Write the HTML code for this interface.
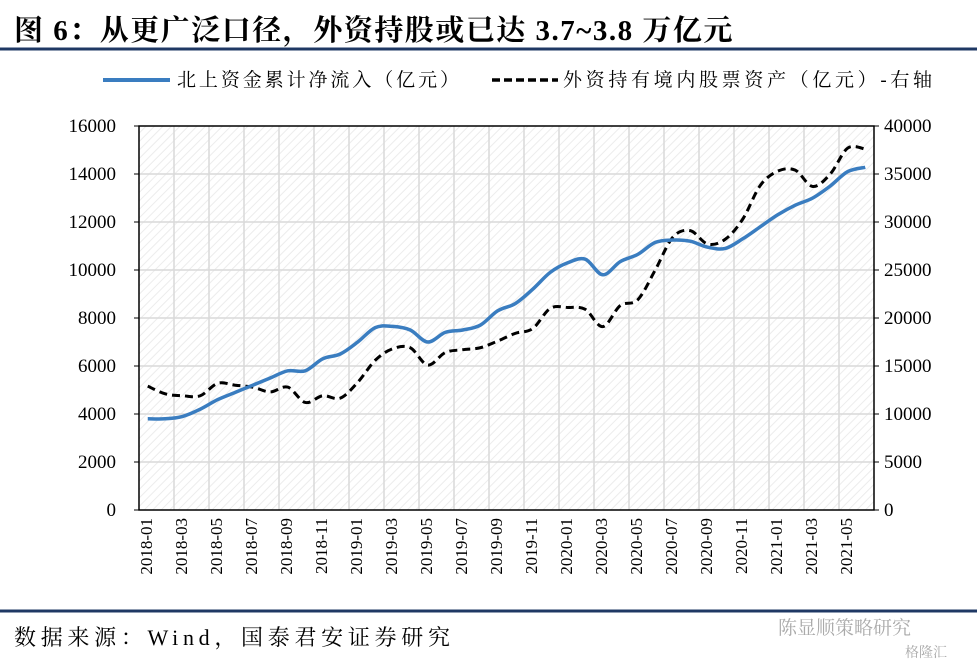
<!DOCTYPE html>
<html><head><meta charset="utf-8"><style>
body{margin:0;background:#fff;width:977px;height:663px;overflow:hidden}
svg{display:block}
text{font-family:"Liberation Serif","Noto Serif CJK SC",serif}
</style></head><body>
<svg width="977" height="663" viewBox="0 0 977 663">
<defs>
<pattern id="hatch" patternUnits="userSpaceOnUse" width="6" height="6" patternTransform="rotate(45)">
<rect width="6" height="6" fill="#fff"/><line x1="0" y1="0" x2="0" y2="6" stroke="#ececec" stroke-width="2"/>
</pattern>
</defs>
<text x="14" y="40" font-size="29" font-weight="bold" letter-spacing="1.5">图 6：从更广泛口径，外资持股或已达 3.7~3.8 万亿元</text>
<line x1="0" y1="49" x2="977" y2="49" stroke="#1f3864" stroke-width="3"/>
<g>
<g>
<line x1="103" y1="80" x2="170" y2="80" stroke="#3a7dc0" stroke-width="4"/>
<text x="177" y="86" font-size="19" letter-spacing="3" textLength="285">北上资金累计净流入（亿元）</text></g>
<g>
<line x1="492" y1="80" x2="558" y2="80" stroke="#000" stroke-width="3.5" stroke-dasharray="8,4"/>
<text x="563" y="86" font-size="19" letter-spacing="3" textLength="372">外资持有境内股票资产（亿元）-右轴</text></g>
</g>
<rect x="139" y="126" width="735" height="384" fill="url(#hatch)"/>
<g id="grid"></g>
<g id="axes"></g>
<g id="series"></g>
<line x1="0" y1="611" x2="977" y2="611" stroke="#1f3864" stroke-width="3"/>
<text x="14" y="645" font-size="22" textLength="436">数据来源：Wind，国泰君安证券研究</text>
<text x="778" y="634" font-size="19" fill="#aaa">陈显顺策略研究</text>
<text x="905" y="657" font-size="14" fill="#aaa">格隆汇</text>
</svg>
<script>
const months = ["2018-01","2018-02","2018-03","2018-04","2018-05","2018-06","2018-07","2018-08","2018-09","2018-10","2018-11","2018-12","2019-01","2019-02","2019-03","2019-04","2019-05","2019-06","2019-07","2019-08","2019-09","2019-10","2019-11","2019-12","2020-01","2020-02","2020-03","2020-04","2020-05","2020-06","2020-07","2020-08","2020-09","2020-10","2020-11","2020-12","2021-01","2021-02","2021-03","2021-04","2021-05","2021-06"];
const northbound = [3800,3800,3900,4200,4600,4900,5200,5500,5800,5800,6300,6500,7000,7600,7650,7500,7000,7400,7500,7700,8300,8600,9200,9900,10300,10450,9800,10350,10650,11150,11250,11200,10950,10900,11300,11800,12300,12700,13000,13500,14100,14280];
const foreign = [12900,12100,11900,11900,13200,13000,12800,12300,12800,11200,11900,11650,13300,15600,16800,16900,15100,16400,16700,16900,17600,18400,18900,21000,21100,20900,19100,21300,21900,25000,28400,29100,27700,28200,30300,33800,35300,35400,33700,35000,37700,37600];
const leftTicks = [0,2000,4000,6000,8000,10000,12000,14000,16000];
const rightTicks = [0,5000,10000,15000,20000,25000,30000,35000,40000];

const NS="http://www.w3.org/2000/svg";
const X0=139,X1=874,Y0=510,Y1=126;
const step=(X1-X0)/months.length;
const xPos=i=>X0+step*(i+0.5);
const yL=v=>Y0-(v/16000)*(Y0-Y1);
const yR=v=>Y0-(v/40000)*(Y0-Y1);
function mk(tag,attrs,parent){const e=document.createElementNS(NS,tag);for(const k in attrs)e.setAttribute(k,attrs[k]);parent.appendChild(e);return e;}
const grid=document.getElementById('grid'),axes=document.getElementById('axes'),series=document.getElementById('series');
leftTicks.forEach(v=>{
  if(v>0&&v<16000){const l=mk('line',{x1:X0,x2:X1,y1:yL(v),y2:yL(v),stroke:'#d9d9d9','stroke-width':1.5},grid);
  
  }
  const t=mk('text',{x:116,y:yL(v)+6,'text-anchor':'end','font-size':19},axes);t.textContent=v;
  
  
  mk('line',{x1:X0-5,x2:X0,y1:yL(v),y2:yL(v),stroke:'#000'},axes);
});
rightTicks.forEach(v=>{
  const t=mk('text',{x:884,y:yR(v)+6,'font-size':19},axes);t.textContent=v;
  
  
  mk('line',{x1:X1,x2:X1+5,y1:yR(v),y2:yR(v),stroke:'#000'},axes);
});
for(let i=2;i<months.length;i+=2){
  const x=X0+step*i;
  const l=mk('line',{x1:x,x2:x,y1:Y1,y2:Y0,stroke:'#d9d9d9','stroke-width':1.5},grid);
  
  
}
months.forEach((m,i)=>{
  if(i%2)return;
  const x=xPos(i)-2;
  const t=mk('text',{x:x,y:524,'text-anchor':'end','font-size':17,transform:`rotate(-90 ${x} 518)`},axes);
  t.textContent=m;
  
  
});
mk('rect',{x:X0,y:Y1,width:X1-X0,height:Y0-Y1,fill:'none',stroke:'#000','stroke-width':1.5},axes);
function smooth(pts){let d=`M${pts[0][0]},${pts[0][1]}`;for(let i=0;i<pts.length-1;i++){const p0=pts[i-1]||pts[i],p1=pts[i],p2=pts[i+1],p3=pts[i+2]||p2;
 d+=` C${p1[0]+(p2[0]-p0[0])/6},${p1[1]+(p2[1]-p0[1])/6} ${p2[0]-(p3[0]-p1[0])/6},${p2[1]-(p3[1]-p1[1])/6} ${p2[0]},${p2[1]}`;}return d;}
const fp=mk('path',{d:smooth(foreign.map((v,i)=>[xPos(i),yR(v)])),fill:'none',stroke:'#000','stroke-width':3,'stroke-dasharray':'8,5'},series);


const np=mk('path',{d:smooth(northbound.map((v,i)=>[xPos(i),yL(v)])),fill:'none',stroke:'#3a7dc0','stroke-width':3.5},series);


</script>
</body></html>
